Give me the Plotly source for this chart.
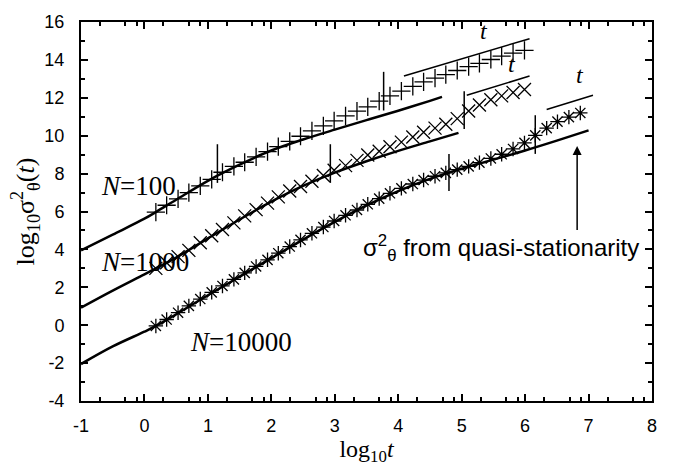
import plotly.graph_objects as go

# ---------------- data ----------------
log_t = [0.18, 0.35, 0.53, 0.70, 0.88, 1.06, 1.23, 1.41, 1.58, 1.76,
         1.94, 2.11, 2.29, 2.46, 2.64, 2.82, 2.99, 3.17, 3.35, 3.52,
         3.70, 3.87, 4.05, 4.23, 4.40, 4.58, 4.75, 4.93, 5.11, 5.28,
         5.46, 5.63, 5.81, 5.99, 6.16, 6.34, 6.51, 6.69, 6.87]

sim_n100 = [5.97, 6.33, 6.67, 7.00, 7.35, 7.70, 8.07, 8.38, 8.60, 8.88,
            9.16, 9.42, 9.70, 9.97, 10.25, 10.52, 10.78, 11.05, 11.30, 11.52,
            11.82, 12.10, 12.35, 12.60, 12.84, 13.04, 13.22, 13.44, 13.64, 13.82,
            14.02, 14.20, 14.36, 14.50]
sim_n1000 = [3.00, 3.30, 3.62, 3.95, 4.35, 4.72, 5.05, 5.40, 5.77, 6.10,
             6.44, 6.77, 7.08, 7.32, 7.60, 7.90, 8.18, 8.42, 8.70, 8.98,
             9.18, 9.42, 9.66, 9.93, 10.18, 10.40, 10.60, 10.90, 11.30, 11.62,
             11.90, 12.10, 12.28, 12.44]
sim_n10000 = [-0.04, 0.30, 0.66, 1.02, 1.38, 1.73, 2.07, 2.42, 2.76, 3.10,
              3.45, 3.80, 4.15, 4.50, 4.85, 5.18, 5.50, 5.80, 6.08, 6.38,
              6.68, 6.96, 7.22, 7.45, 7.66, 7.86, 8.04, 8.21, 8.38, 8.58,
              8.80, 9.02, 9.30, 9.62, 10.02, 10.40, 10.74, 10.98, 11.20]

qs_x_n100 = [-1.0, -0.5, 0.0, 0.18, 0.5, 1.0, 1.5, 2.0, 2.5, 3.0, 3.5, 4.0, 4.5, 4.69]
qs_y_n100 = [3.95, 4.78, 5.62, 5.97, 6.62, 7.62, 8.47, 9.22, 9.80, 10.32, 10.82, 11.32, 11.84, 12.05]

qs_x_n1000 = [-1.0, -0.5, 0.0, 0.18, 0.5, 1.0, 1.5, 2.0, 2.5, 3.0, 3.5, 4.0, 4.5, 4.95]
qs_y_n1000 = [0.92, 1.82, 2.68, 3.00, 3.57, 4.58, 5.58, 6.52, 7.35, 8.05, 8.65, 9.20, 9.70, 10.15]

qs_x_n10000 = [-1.0, -0.5, 0.0, 0.18, 0.5, 1.0, 1.5, 2.0, 2.5, 3.0, 3.5, 4.0, 4.5, 5.0, 5.5, 6.0, 6.5, 7.0]
qs_y_n10000 = [-2.05, -1.12, -0.34, -0.04, 0.58, 1.58, 2.56, 3.54, 4.52, 5.45, 6.32, 7.08, 7.72, 8.26, 8.74, 9.22, 9.74, 10.28]

# vertical markers (x, y_low, y_high)
vmark_x = [1.15, 3.77, 2.93, 5.04, 4.80, 6.16]
vmark_lo = [7.51, 11.33, 7.51, 10.36, 7.08, 9.04]
vmark_hi = [9.55, 13.37, 9.55, 12.35, 9.04, 11.08]

# slope-1 guide lines (x0, y0, x1, y1) and their "t" labels
guide_x0 = [4.09, 5.08, 6.34]
guide_y0 = [13.15, 12.13, 11.38]
guide_x1 = [6.07, 6.07, 7.07]
guide_y1 = [15.12, 13.15, 12.13]
guide_lx = [5.35, 5.79, 6.86]
guide_ly = [15.52, 13.80, 13.18]

# labels
n_labels = ["<i>N</i>=100", "<i>N</i>=1000", "<i>N</i>=10000"]
n_label_x = [-0.71, -0.72, 0.69]
n_label_y = [7.37, 3.34, -0.91]

arrow_x = 6.82
arrow_y_tail = 4.95
arrow_y_head = 9.46
qs_text = "σ<sup>2</sup><sub>θ</sub> from quasi-stationarity"
qs_text_x = 7.82
qs_text_y = 4.10

x_ticks = [-1, 0, 1, 2, 3, 4, 5, 6, 7, 8]
x_tick_text = ["-1", "0", "1", "2", "3", "4", "5", "6", "7", "8"]
x_minor = [d + f for d in range(-1, 8) for f in (0.30, 0.70, 0.88)]
y_ticks = [-4, -2, 0, 2, 4, 6, 8, 10, 12, 14, 16]
y_tick_text = ["-4", "-2", "0", "2", "4", "6", "8", "10", "12", "14", "16"]
y_minor = [-3, -1, 1, 3, 5, 7, 9, 11, 13, 15]

# ---------------- figure ----------------
fig = go.Figure()

for xs, ys in [(qs_x_n100, qs_y_n100), (qs_x_n1000, qs_y_n1000), (qs_x_n10000, qs_y_n10000)]:
    fig.add_trace(go.Scatter(x=xs, y=ys, mode="lines", line=dict(color="black", width=2.5, shape="spline"),
                             hoverinfo="skip", showlegend=False))

fig.add_trace(go.Scatter(x=log_t[:len(sim_n100)], y=sim_n100, mode="markers",
                         marker=dict(symbol="cross-thin", size=13, line=dict(color="black", width=1.3)),
                         showlegend=False))
fig.add_trace(go.Scatter(x=log_t[:len(sim_n1000)], y=sim_n1000, mode="markers",
                         marker=dict(symbol="x-thin", size=13, line=dict(color="black", width=1.3)),
                         showlegend=False))
fig.add_trace(go.Scatter(x=log_t[:len(sim_n10000)], y=sim_n10000, mode="markers",
                         marker=dict(symbol="asterisk", size=12, line=dict(color="black", width=1.3)),
                         showlegend=False))

for x, lo, hi in zip(vmark_x, vmark_lo, vmark_hi):
    fig.add_trace(go.Scatter(x=[x, x], y=[lo, hi], mode="lines", line=dict(color="black", width=1.5),
                             hoverinfo="skip", showlegend=False))

for x0, y0, x1, y1 in zip(guide_x0, guide_y0, guide_x1, guide_y1):
    fig.add_trace(go.Scatter(x=[x0, x1], y=[y0, y1], mode="lines", line=dict(color="black", width=1.5),
                             hoverinfo="skip", showlegend=False))

serif = "Liberation Serif, Times New Roman, serif"
sans = "Liberation Sans, Arial, sans-serif"

for lx, ly in zip(guide_lx, guide_ly):
    fig.add_annotation(x=lx, y=ly, text="<i>t</i>", showarrow=False, xanchor="center", yanchor="middle",
                       font=dict(family=serif, size=24, color="black"))

for txt, lx, ly in zip(n_labels, n_label_x, n_label_y):
    fig.add_annotation(x=lx, y=ly, text=txt, showarrow=False, xanchor="left", yanchor="middle",
                       font=dict(family=serif, size=27, color="black"))

fig.add_annotation(x=arrow_x, y=arrow_y_head, ax=arrow_x, ay=arrow_y_tail, xref="x", yref="y",
                   axref="x", ayref="y", text="", showarrow=True, arrowhead=2, arrowsize=1.2,
                   arrowwidth=1.5, arrowcolor="black")
fig.add_annotation(x=qs_text_x, y=qs_text_y, text=qs_text, showarrow=False, xanchor="right",
                   yanchor="middle", font=dict(family=sans, size=24, color="black"))

axis_common = dict(showline=True, linewidth=2, linecolor="black", mirror="ticks", ticks="inside",
                   ticklen=7, tickwidth=1.5, tickcolor="black", showgrid=False, zeroline=False,
                   tickfont=dict(family=sans, size=18, color="black"))

fig.update_xaxes(range=[-1, 8], tickmode="array", tickvals=x_ticks, ticktext=x_tick_text,
                 minor=dict(tickmode="array", tickvals=x_minor, ticks="inside", ticklen=4,
                            tickwidth=1.5, tickcolor="black"),
                 title=dict(text="log<sub>10</sub><i>t</i>", font=dict(family=serif, size=24, color="black"),
                            standoff=6),
                 ticklabelstandoff=7, **axis_common)
fig.update_yaxes(range=[-4, 16], tickmode="array", tickvals=y_ticks, ticktext=y_tick_text,
                 minor=dict(tickmode="array", tickvals=y_minor, ticks="inside", ticklen=4,
                            tickwidth=1.5, tickcolor="black"),
                 title=dict(text="log<sub>10</sub>σ<sup>2</sup><sub>θ</sub>(<i>t</i>)",
                            font=dict(family=serif, size=26, color="black"), standoff=2),
                 ticklabelstandoff=11, **axis_common)

fig.update_layout(width=678, height=470, margin=dict(l=81, r=26, t=14, b=64),
                  plot_bgcolor="white", paper_bgcolor="white", showlegend=False)

fig.write_html("out.html")
